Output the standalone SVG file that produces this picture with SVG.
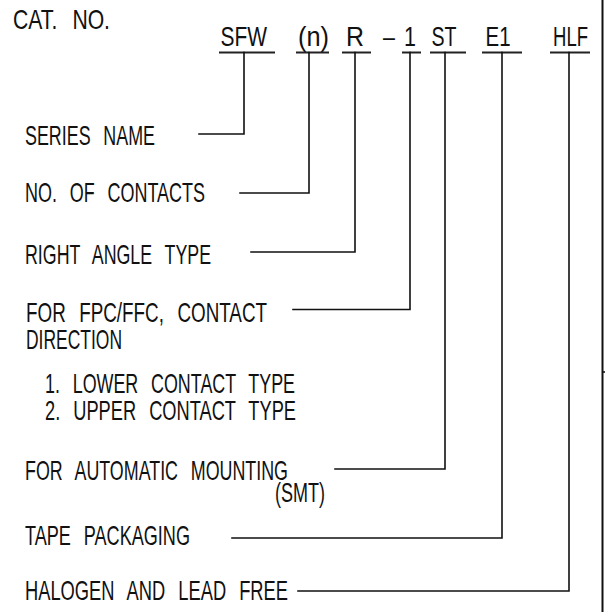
<svg xmlns="http://www.w3.org/2000/svg" width="605" height="612" viewBox="0 0 605 612">
<style>
text{font-family:"Liberation Sans Narrow","Liberation Sans",Arial,sans-serif;font-size:27.5px;fill:#111;word-spacing:12px;}
.ln{stroke:#111;stroke-width:1.6;fill:none;stroke-linecap:square;}
.ul{stroke:#222;stroke-width:2;fill:none;}
</style>
<rect width="605" height="612" fill="#fff"/>
<g id="title"><text x="13" y="29" textLength="97" lengthAdjust="spacingAndGlyphs">CAT. NO.</text></g>
<g id="code">
<g id="c-sfw"><text x="220.5" y="46" textLength="46.5" lengthAdjust="spacingAndGlyphs">SFW</text><line class="ul" x1="219" y1="52.5" x2="275" y2="52.5"/></g>
<g id="c-n"><text x="298" y="46" textLength="31" lengthAdjust="spacingAndGlyphs">(n)</text><line class="ul" x1="296" y1="52.5" x2="329" y2="52.5"/></g>
<g id="c-r"><text x="346" y="46" textLength="18" lengthAdjust="spacingAndGlyphs">R</text><line class="ul" x1="342" y1="52.5" x2="371" y2="52.5"/></g>
<g id="c-1"><text x="383" y="46" textLength="33" lengthAdjust="spacingAndGlyphs" style="word-spacing:4px">– 1</text><line class="ul" x1="402" y1="52.5" x2="421" y2="52.5"/></g>
<g id="c-st"><text x="431.5" y="46" textLength="25" lengthAdjust="spacingAndGlyphs">ST</text><line class="ul" x1="430" y1="52.5" x2="466" y2="52.5"/></g>
<g id="c-e1"><text x="485.5" y="46" textLength="25" lengthAdjust="spacingAndGlyphs">E1</text><line class="ul" x1="482" y1="52.5" x2="522" y2="52.5"/></g>
<g id="c-hlf"><text x="553" y="46" textLength="35" lengthAdjust="spacingAndGlyphs">HLF</text><line class="ul" x1="550" y1="52.5" x2="590" y2="52.5"/></g>
</g>
<g id="series"><text x="25" y="145" textLength="130" lengthAdjust="spacingAndGlyphs">SERIES NAME</text></g>
<g id="contacts"><text x="25" y="201.5" textLength="180" lengthAdjust="spacingAndGlyphs">NO. OF CONTACTS</text></g>
<g id="rightangle"><text x="25" y="264" textLength="186" lengthAdjust="spacingAndGlyphs">RIGHT ANGLE TYPE</text></g>
<g id="fpc">
<text x="26" y="321.5" textLength="241" lengthAdjust="spacingAndGlyphs">FOR FPC/FFC, CONTACT</text>
<text x="26" y="348.5" textLength="96" lengthAdjust="spacingAndGlyphs">DIRECTION</text>
<text x="45" y="392.5" textLength="250" lengthAdjust="spacingAndGlyphs">1. LOWER CONTACT TYPE</text>
<text x="45" y="420" textLength="251" lengthAdjust="spacingAndGlyphs">2. UPPER CONTACT TYPE</text>
</g>
<g id="smt">
<text x="25" y="480" textLength="263" lengthAdjust="spacingAndGlyphs">FOR AUTOMATIC MOUNTING</text>
<text x="275" y="502" textLength="50" lengthAdjust="spacingAndGlyphs">(SMT)</text>
</g>
<g id="tape"><text x="25" y="545" textLength="165" lengthAdjust="spacingAndGlyphs">TAPE PACKAGING</text></g>
<g id="halogen"><text x="25" y="600" textLength="263" lengthAdjust="spacingAndGlyphs">HALOGEN AND LEAD FREE</text></g>
<g id="connectors">
<polyline class="ln" points="244,52.5 244,134 199,134"/>
<polyline class="ln" points="309,52.5 309,193 240,193"/>
<polyline class="ln" points="355,52.5 355,252 251,252"/>
<polyline class="ln" points="410,52.5 410,309.5 293,309.5"/>
<polyline class="ln" points="445,52.5 445,469 335,469"/>
<polyline class="ln" points="502,52.5 502,538 232,538"/>
<polyline class="ln" points="569,52.5 569,591 298,591"/>
</g>
<g id="border">
<line x1="602.5" y1="0" x2="602.5" y2="612" stroke="#111" stroke-width="2"/>
<line x1="602" y1="372" x2="605" y2="372" stroke="#111" stroke-width="1.6"/>
</g>
</svg>
